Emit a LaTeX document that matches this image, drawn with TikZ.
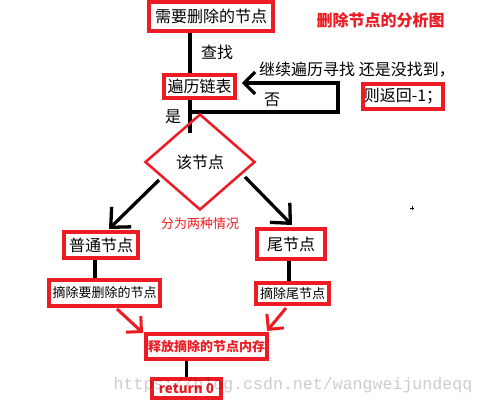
\documentclass[tikz,border=0pt]{standalone}
\usepackage{fontspec}
\setmainfont{Noto Sans CJK SC}
\newfontfamily\wmfont{Liberation Mono}
\usetikzlibrary{shapes.geometric,arrows.meta,backgrounds}
\definecolor{pred}{RGB}{237,28,36}
\begin{document}
\begin{tikzpicture}[x=1pt,y=-1pt,
  box/.style={draw=pred,line width=3.5pt,inner sep=0pt,align=center},
  big/.style={font=\fontsize{16}{16}\selectfont},
  small/.style={font=\fontsize{13}{13}\selectfont},
  blk/.style={line width=3.3pt},
  bbarb/.style={-{Straight Barb[length=15pt,width=28pt]}},
  rbarb/.style={draw=pred,line width=3pt,-{Straight Barb[length=11pt,width=22pt]}}
]
\useasboundingbox (0,0) rectangle (485,407);

% nodes
\node[box,big,minimum width=124pt,minimum height=29pt] (n1) at (211,16.5) {需要删除的节点};
\node[box,big,minimum width=71pt,minimum height=23pt] (n2) at (199.5,86.5) {遍历链表};
\node[box,big,minimum width=80pt,minimum height=25pt] (n3) at (403,96.5) {则返回-1；};
\node[diamond,draw=pred,line width=2.5pt,minimum width=110pt,minimum height=96pt,inner sep=0pt,big] (dia) at (200,162) {该节点};
\node[box,big,minimum width=74pt,minimum height=26pt] (n4) at (101,245) {普通节点};
\node[box,big,minimum width=68pt,minimum height=30pt] (n5) at (291,244) {尾节点};
\node[box,small,minimum width=111pt,minimum height=26pt] (n6) at (104.5,293) {摘除要删除的节点};
\node[box,small,minimum width=73pt,minimum height=21pt] (n7) at (292.5,293.5) {摘除尾节点};
\node[box,minimum width=121pt,minimum height=25pt,text=pred,font=\fontsize{13}{13}\selectfont\bfseries] (n8) at (206.5,346.5) {释放摘除的节点内存};
\node[box,minimum width=69pt,minimum height=19pt,text=pred,font=\fontsize{13.5}{13.5}\selectfont\bfseries] (n9) at (186.5,388.5) {return 0};

% labels
\node[big] (cz) at (217,52) {查找};
\node[big] (fou) at (272,100) {否};
\node[big] (shi) at (173,117) {是};
\node[big,anchor=west,inner sep=0pt] (jx) at (259,70) {继续遍历寻找 还是没找到，};
\node[text=pred,font=\fontsize{16}{16}\selectfont\bfseries] (title) at (380.5,20) {删除节点的分析图};
\node[small,text=pred] (fl) at (200,224) {分为两种情况};

% connectors
\begin{scope}[on background layer]
\fill[white] (0,0) rectangle (485,407);
\coordinate (v) at (190,0);
\draw[blk] (n1.south -| v) -- (n2.north -| v);
\coordinate (d1) at (190,133);
\draw[blk] (n2.south -| v) -- (d1);
\coordinate (j) at (190,112);
\coordinate (c1) at (338,112);
\coordinate (c2) at (338,83);
\draw[blk,-{Straight Barb[length=11pt,width=22pt]}] (j) -- (c1) -- (c2) -- ([xshift=5pt]n2.east |- c2);
\coordinate (dl) at (159,180);
\coordinate (al) at (109,229);
\draw[blk,bbarb] (dl) -- (al);
\coordinate (dr) at (245,177);
\coordinate (ar) at (292,225);
\draw[blk,bbarb] (dr) -- (ar);
\draw[blk] ([xshift=-6pt]n4.south) -- ([xshift=-6pt]n4.south |- n6.north);
\draw[blk] ([xshift=-2pt]n5.south) -- ([xshift=-2pt]n5.south |- n7.north);
\draw[blk] (n9.north |- n8.south) -- (n9.north);
\coordinate (r1) at (117,309);
\coordinate (t1) at (143,333);
\draw[rbarb] (r1) -- (t1);
\coordinate (r2) at (286,308);
\coordinate (t2) at (267,331);
\draw[rbarb] (r2) -- (t2);
\draw[line width=0.8pt] (410,208) -- (414,208) (412,206) -- (412,210);
\end{scope}

% watermark
\node[font=\wmfont\fontsize{16.6}{16.6}\selectfont,text=black,text opacity=0.2] (wm) at (293,385) {https://blog.csdn.net/wangweijundeqq};
\end{tikzpicture}
\end{document}
